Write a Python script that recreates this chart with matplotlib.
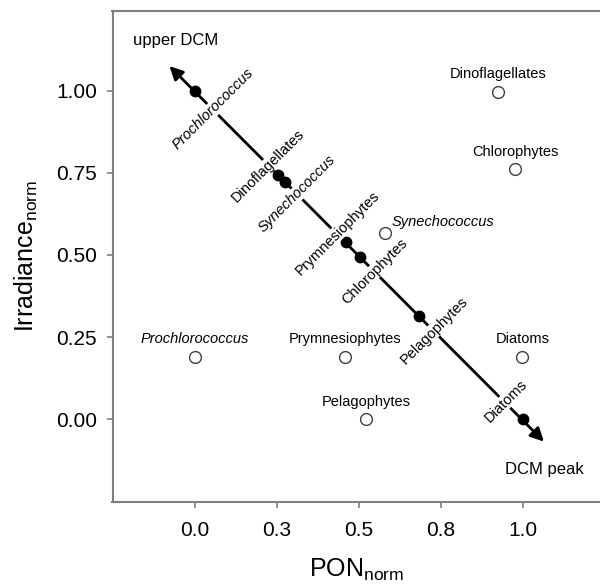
import matplotlib
matplotlib.use("Agg")
import matplotlib.pyplot as plt

plt.rcParams['font.family'] = ['Liberation Sans', 'DejaVu Sans']
plt.rcParams['mathtext.fontset'] = 'custom'
plt.rcParams['mathtext.rm'] = 'Liberation Sans'
plt.rcParams['mathtext.it'] = 'Liberation Sans:italic'

# Filled points along the arrow (DCM ranking)
line_names = ["Prochlorococcus", "Dinoflagellates", "Synechococcus", "Prymnesiophytes",
              "Chlorophytes", "Pelagophytes", "Diatoms"]
line_x = [0.0, 0.253, 0.274, 0.459, 0.503, 0.684, 1.0]
line_y = [1.0, 0.744, 0.723, 0.541, 0.495, 0.315, 0.0]
line_italic = [True, False, True, False, False, False, False]
# label offsets along the line (in x; y follows the line)
line_label_dx = [0.055, -0.029, 0.037, -0.025, 0.045, 0.045, -0.053]

# Open circles
open_names = ["Dinoflagellates", "Chlorophytes", "Synechococcus", "Prochlorococcus",
              "Prymnesiophytes", "Diatoms", "Pelagophytes"]
open_x = [0.925, 0.976, 0.579, 0.0, 0.457, 0.998, 0.521]
open_y = [0.998, 0.762, 0.568, 0.19, 0.19, 0.19, 0.0]
open_italic = [False, False, True, True, False, False, False]

# Arrow ends
arrow_x = [-0.078, 1.064]
arrow_y = [1.076, -0.069]

xticks = [0.0, 0.25, 0.5, 0.75, 1.0]
xticklabels = ["0.0", "0.3", "0.5", "0.8", "1.0"]
yticks = [0.0, 0.25, 0.5, 0.75, 1.0]
yticklabels = ["0.00", "0.25", "0.50", "0.75", "1.00"]

fig = plt.figure(figsize=(6.0, 5.88), dpi=100)
ax = fig.add_axes([112.5 / 600, 1 - 501.5 / 588, 1 - 112.5 / 600, (501.5 - 10.5) / 588])
ax.set_xlim(-0.2515, 1.2348)
ax.set_ylim(-0.2515, 1.2454)

spine_col = '#7f7f7f'
for s in ['left', 'bottom', 'top']:
    ax.spines[s].set_color(spine_col)
    ax.spines[s].set_linewidth(1.5)
ax.spines['right'].set_visible(False)

ax.set_xticks(xticks)
ax.set_xticklabels(xticklabels)
ax.set_yticks(yticks)
ax.set_yticklabels(yticklabels)
ax.tick_params(axis='both', direction='out', length=4, width=1.2, color=spine_col,
               labelsize=15, labelcolor='black')
ax.tick_params(axis='x', pad=10)
ax.tick_params(axis='y', pad=7)

ax.set_xlabel(r'PON$_{\mathrm{norm}}$', fontsize=18, labelpad=12)
ax.set_ylabel(r'Irradiance$_{\mathrm{norm}}$', fontsize=18, labelpad=12)

# Arrow line
ax.annotate('', xy=(arrow_x[1], arrow_y[1]), xytext=(arrow_x[0], arrow_y[0]),
            arrowprops=dict(arrowstyle='<|-|>', lw=2.0, color='black',
                            mutation_scale=20, shrinkA=0, shrinkB=0),
            zorder=2)

ax.plot(line_x, line_y, 'o', color='black', markersize=7.5, linestyle='none', zorder=3)

# slope of the line through the filled points
slope = (arrow_y[1] - arrow_y[0]) / (arrow_x[1] - arrow_x[0])
for name, x, y, it, dx in zip(line_names, line_x, line_y, line_italic, line_label_dx):
    lx = x + dx
    ly = y + slope * dx
    ax.text(lx, ly, name, rotation=45, ha='center', va='center', fontsize=10.5,
            style='italic' if it else 'normal', rotation_mode='anchor',
            bbox=dict(facecolor='white', edgecolor='none', pad=0.5), zorder=4)

ax.plot(open_x, open_y, 'o', markerfacecolor='white', markeredgecolor='#404040',
        markeredgewidth=1.0, markersize=8.5, linestyle='none', zorder=3)

for name, x, y, it in zip(open_names, open_x, open_y, open_italic):
    if name == "Synechococcus":
        ax.annotate(name, (x, y), xytext=(5, 8), textcoords='offset points',
                    ha='left', va='center', fontsize=10.5, style='italic')
    else:
        ax.annotate(name, (x, y), xytext=(0, 12.5), textcoords='offset points',
                    ha='center', va='center', fontsize=10.5,
                    style='italic' if it else 'normal')

ax.text(-0.189, 1.153, 'upper DCM', ha='left', va='center', fontsize=12)
ax.text(0.945, -0.155, 'DCM peak', ha='left', va='center', fontsize=12)

fig.savefig('out.png', dpi=100)
